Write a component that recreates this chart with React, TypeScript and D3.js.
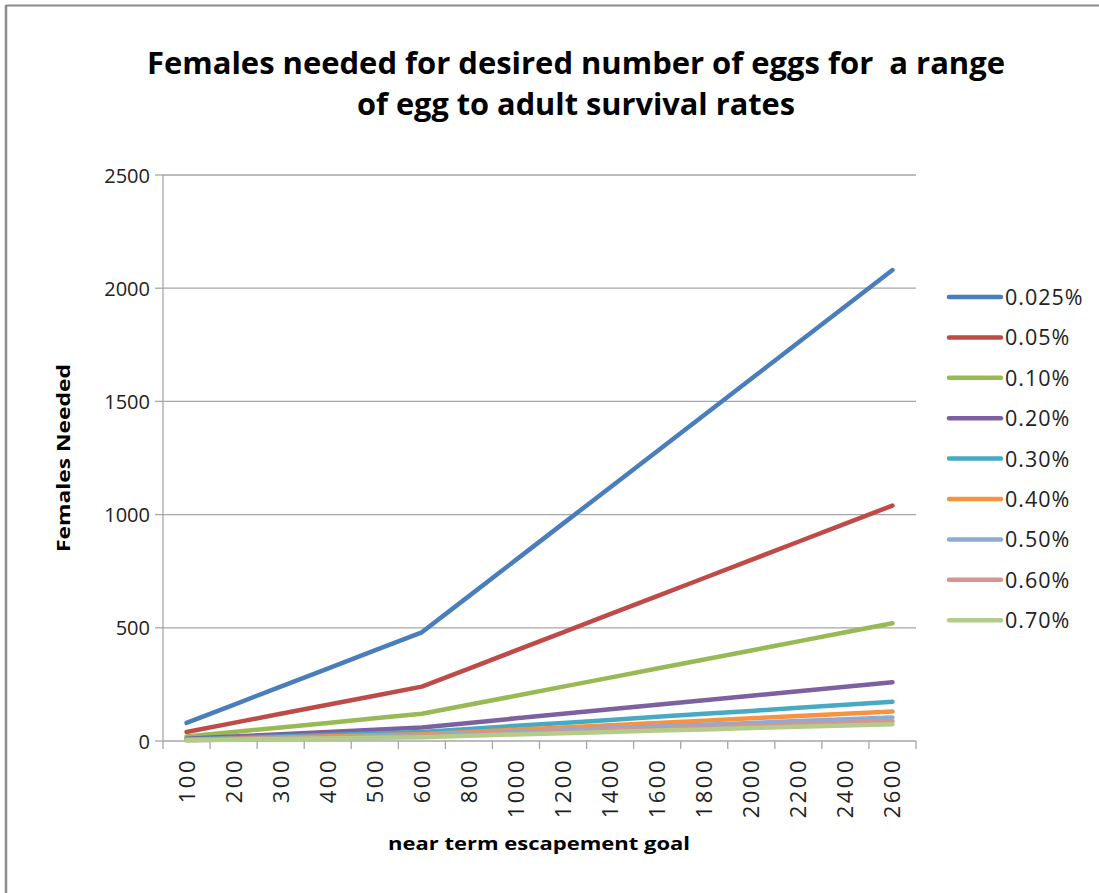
import React from "react";
import * as d3 from "d3";

const categories = ["100", "200", "300", "400", "500", "600", "800", "1000", "1200", "1400", "1600", "1800", "2000", "2200", "2400", "2600"];

const s0025 = [80, 160, 240, 320, 400, 480, 640, 800, 960, 1120, 1280, 1440, 1600, 1760, 1920, 2080];
const s005 = [40, 80, 120, 160, 200, 240, 320, 400, 480, 560, 640, 720, 800, 880, 960, 1040];
const s010 = [20, 40, 60, 80, 100, 120, 160, 200, 240, 280, 320, 360, 400, 440, 480, 520];
const s020 = [10, 20, 30, 40, 50, 60, 80, 100, 120, 140, 160, 180, 200, 220, 240, 260];
const s030 = [7, 13, 20, 27, 33, 40, 53, 67, 80, 93, 107, 120, 133, 147, 160, 173];
const s040 = [5, 10, 15, 20, 25, 30, 40, 50, 60, 70, 80, 90, 100, 110, 120, 130];
const s050 = [4, 8, 12, 16, 20, 24, 32, 40, 48, 56, 64, 72, 80, 88, 96, 104];
const s060 = [3, 7, 10, 13, 17, 20, 27, 33, 40, 47, 53, 60, 67, 73, 80, 87];
const s070 = [3, 6, 9, 11, 14, 17, 23, 29, 34, 40, 46, 51, 57, 63, 69, 74];

const seriesNames = ["0.025%", "0.05%", "0.10%", "0.20%", "0.30%", "0.40%", "0.50%", "0.60%", "0.70%"];
const seriesValues = [s0025, s005, s010, s020, s030, s040, s050, s060, s070];
const seriesColors = ["#4A7EBB", "#BE4B48", "#98B954", "#7D60A0", "#46AAC5", "#F69240", "#8FAAD4", "#D69593", "#B2CD8A"];

const yTicks = [0, 500, 1000, 1500, 2000, 2500];

export default function App() {
  const W = 1099, H = 893;
  const left = 163, right = 916, top = 175, bottom = 741;
  const x = d3.scaleBand<string>().domain(categories).range([left, right]);
  const y = d3.scaleLinear().domain([0, 2500]).range([bottom, top]);
  const line = d3.line<number>()
    .x((_, i) => (x(categories[i]) as number) + x.bandwidth() / 2)
    .y((d) => y(d));
  const font = "'Open Sans', 'Liberation Sans', sans-serif";
  const gridColor = "#A6A6A6";
  const bandEdges = categories.map((c) => x(c) as number).concat([right]);

  return (
    <svg width={W} height={H} style={{ position: "absolute", left: 0, top: 0, background: "#fff" }}>
      {/* border */}
      <line x1={6} y1={5.5} x2={W} y2={5.5} stroke="#8C8C8C" strokeWidth={2} />
      <line x1={6} y1={5} x2={6} y2={H} stroke="#8C8C8C" strokeWidth={2.5} />

      {/* title */}
      <text x={576} y={74} textAnchor="middle" fontFamily={font} fontWeight="bold" fontSize={30} fill="#000"
        textLength={858} lengthAdjust="spacingAndGlyphs" style={{ whiteSpace: "pre" }}>Females needed for desired number of eggs for  a range</text>
      <text x={576} y={115} textAnchor="middle" fontFamily={font} fontWeight="bold" fontSize={30} fill="#000"
        textLength={438} lengthAdjust="spacingAndGlyphs">of egg to adult survival rates</text>

      {/* gridlines + y ticks */}
      {yTicks.map((t) => (
        <g key={t}>
          {t > 0 && <line x1={left} x2={right} y1={y(t)} y2={y(t)} stroke={gridColor} strokeWidth={1.3} />}
          <line x1={155} x2={left} y1={y(t)} y2={y(t)} stroke={gridColor} strokeWidth={1.3} />
          <text x={150} y={y(t) + 7.5} textAnchor="end" fontFamily={font} fontSize={20} fill="#222">{t}</text>
        </g>
      ))}

      {/* axes */}
      <line x1={left} x2={left} y1={top} y2={bottom} stroke={gridColor} strokeWidth={1.3} />
      <line x1={left} x2={right} y1={bottom} y2={bottom} stroke={gridColor} strokeWidth={1.3} />
      {bandEdges.map((e, i) => (
        <line key={i} x1={e} x2={e} y1={bottom} y2={bottom + 8} stroke={gridColor} strokeWidth={1.3} />
      ))}
      {categories.map((c) => {
        const cx = (x(c) as number) + x.bandwidth() / 2;
        return (
          <text key={c} transform={`translate(${cx + 8},${758}) rotate(-90)`} textAnchor="end"
            fontFamily={font} fontSize={22} letterSpacing={2.5} fill="#222">{c}</text>
        );
      })}

      {/* axis titles */}
      <text transform={`translate(70,${(top + bottom) / 2}) rotate(-90)`} textAnchor="middle" fontFamily={font}
        fontWeight="bold" fontSize={18} fill="#000" textLength={188} lengthAdjust="spacingAndGlyphs">Females Needed</text>
      <text x={539} y={850} textAnchor="middle" fontFamily={font} fontWeight="bold" fontSize={18} fill="#000"
        textLength={302} lengthAdjust="spacingAndGlyphs">near term escapement goal</text>

      {/* series */}
      {seriesValues.map((vals, i) => (
        <path key={seriesNames[i]} d={line(vals) as string} fill="none" stroke={seriesColors[i]} strokeWidth={4.5}
          strokeLinejoin="round" strokeLinecap="round" />
      ))}

      {/* legend */}
      {seriesNames.map((n, i) => {
        const ly = 297 + i * 40.4;
        return (
          <g key={n}>
            <line x1={949} x2={1001} y1={ly} y2={ly} stroke={seriesColors[i]} strokeWidth={4.5} strokeLinecap="round" />
            <text x={1005} y={ly + 8} fontFamily={font} fontSize={21.5} letterSpacing={1} fill="#222">{n}</text>
          </g>
        );
      })}
    </svg>
  );
}
